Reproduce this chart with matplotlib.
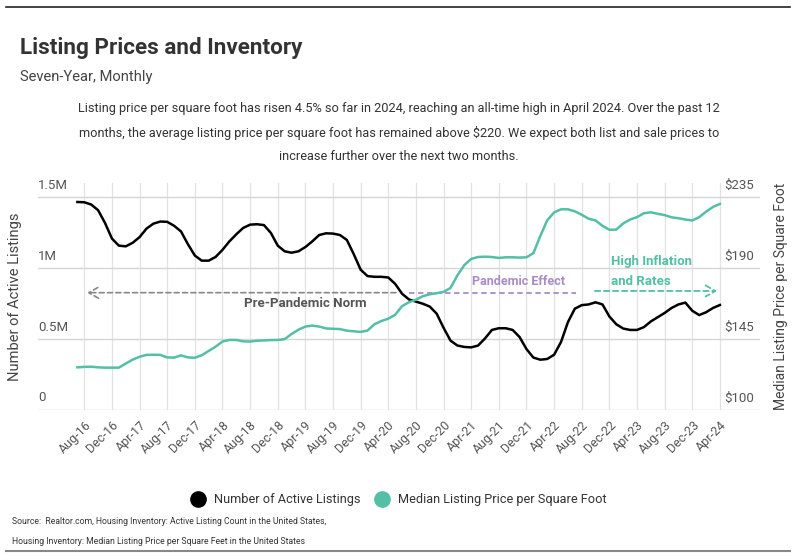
import matplotlib
matplotlib.use("Agg")
import matplotlib.pyplot as plt
from matplotlib.lines import Line2D
import matplotlib.transforms as mtransforms
import pandas as pd

# Monthly, Jul-2016 .. Apr-2024
months = pd.date_range("2016-07-01", "2024-04-01", freq="MS")

# Number of active listings (millions)
listings_m = [
    1.468, 1.466, 1.45, 1.41, 1.32, 1.21,
    1.16, 1.155, 1.18, 1.22, 1.28, 1.315, 1.33, 1.328, 1.30, 1.26, 1.17, 1.09,
    1.054, 1.054, 1.08, 1.13, 1.19, 1.24, 1.285, 1.308, 1.311, 1.305, 1.25, 1.16,
    1.12, 1.11, 1.12, 1.15, 1.19, 1.235, 1.247, 1.245, 1.235, 1.20, 1.10, 0.99,
    0.945, 0.94, 0.94, 0.935, 0.89, 0.82, 0.78, 0.765, 0.75, 0.73, 0.68, 0.58,
    0.49, 0.455, 0.445, 0.442, 0.455, 0.505, 0.565, 0.577, 0.577, 0.565, 0.515, 0.43,
    0.37, 0.355, 0.36, 0.39, 0.48, 0.62, 0.715, 0.74, 0.745, 0.76, 0.745, 0.66,
    0.605, 0.575, 0.565, 0.565, 0.585, 0.625, 0.655, 0.685, 0.72, 0.745, 0.758, 0.70,
    0.67, 0.69, 0.72, 0.741,
]

# Median listing price per square foot ($)
price_sqft = [
    127.1, 127.4, 127.5, 127.1, 126.9, 126.9,
    126.9, 129.5, 132.0, 133.8, 135.0, 135.1, 135.0, 133.4, 133.3, 134.7, 133.4, 133.2,
    134.8, 137.5, 140.2, 143.5, 144.5, 144.5, 143.6, 143.5, 144.0, 144.2, 144.4, 144.5,
    145.0, 148.3, 151.0, 153.0, 153.6, 153.0, 151.8, 151.6, 151.4, 150.4, 150.0, 149.6,
    150.5, 154.5, 156.5, 158.0, 160.5, 166.0, 168.5, 170.0, 172.3, 173.5, 174.2, 175.0,
    177.5, 185.5, 192.0, 196.0, 197.2, 197.4, 197.2, 196.6, 197.0, 197.0, 196.8, 197.0,
    199.6, 210.5, 220.5, 225.5, 227.5, 227.5, 226.2, 224.0, 221.5, 220.4, 217.0, 214.5,
    214.6, 218.5, 221.0, 222.5, 225.0, 225.6, 224.6, 223.8, 222.4, 221.8, 221.0, 220.4,
    222.5, 226.0, 229.0, 230.9,
]

tick_labels = ["Aug-16", "Dec-16", "Apr-17", "Aug-17", "Dec-17", "Apr-18", "Aug-18",
               "Dec-18", "Apr-19", "Aug-19", "Dec-19", "Apr-20", "Aug-20", "Dec-20",
               "Apr-21", "Aug-21", "Dec-21", "Apr-22", "Aug-22", "Dec-22", "Apr-23",
               "Aug-23", "Dec-23", "Apr-24"]
left_ticks = [0, 0.5e6, 1.0e6, 1.5e6]
left_tick_labels = ["0", "0.5M", "1M", "1.5M"]
right_ticks = [100, 145, 190, 235]
right_tick_labels = ["$100", "$145", "$190", "$235"]

plt.rcParams["font.family"] = ["Roboto", "DejaVu Sans"]

TEAL = "#52bfa6"
PURPLE = "#a98bc8"
GRID = "#e2e2e2"
TXT = "#444444"

idx = list(range(len(months)))
listings = [v * 1e6 for v in listings_m]
month_str = [m.strftime("%b-%y") for m in months]
tick_pos = [month_str.index(t) for t in tick_labels]

fig = plt.figure(figsize=(7.95, 5.57), dpi=100)
ax = fig.add_axes([38 / 795, 147 / 557, 722 / 795, 227 / 557])
ax2 = ax.twinx()

ax.set_xlim(-5.7, 98.8)
ax.set_ylim(0, 1.602e6)
ax2.set_ylim(100, 244.2)

# grid
for t in tick_pos:
    ax.axvline(t, color=GRID, lw=0.9, zorder=0)
for t in left_ticks:
    ax.axhline(t, color="#d6d6d6", lw=1.0, zorder=0)

ax.plot(idx, listings, color="black", lw=1.8, zorder=3)
ax2.plot(idx, price_sqft, color=TEAL, lw=1.8, zorder=3)

for a in (ax, ax2):
    for s in a.spines.values():
        s.set_visible(False)
    a.set_yticks([])
ax.set_xticks(tick_pos)
ax.set_xticklabels(tick_labels, rotation=45, ha="right", rotation_mode="anchor",
                   fontsize=9, color="#555555")
ax.tick_params(axis="x", length=0, pad=6)

# y tick labels sit above the gridlines, inside the plot
trans_l = mtransforms.blended_transform_factory(ax.transAxes, ax.transData)
for v, lab in zip(left_ticks, left_tick_labels):
    ax.annotate(lab, (0, v), xycoords=trans_l, xytext=(0, 4), textcoords="offset points",
                ha="left", va="bottom", fontsize=9.5, color="#555555")
trans_r = mtransforms.blended_transform_factory(ax2.transAxes, ax2.transData)
for v, lab in zip(right_ticks, right_tick_labels):
    ax2.annotate(lab, (1, v), xycoords=trans_r, xytext=(-4, 4), textcoords="offset points",
                 ha="right", va="bottom", fontsize=9.5, color="#555555")

# annotations (left-axis units)
ax.annotate("", xy=(1, 0.828e6), xytext=(46.5, 0.828e6),
            arrowprops=dict(arrowstyle="->,head_length=0.7,head_width=0.4", color="#888888",
                            lw=1.2, linestyle=(0, (3, 2))), zorder=2)
ax.text(33, 0.80e6, "Pre-Pandemic Norm", ha="center", va="top", fontsize=9.5,
        fontweight="bold", color="#555555")
ax.plot([48, 72.2], [0.828e6, 0.828e6], color=PURPLE, lw=1.3, ls=(0, (3, 2)), zorder=2)
ax.text(63.8, 0.86e6, "Pandemic Effect", ha="center", va="bottom", fontsize=9,
        fontweight="bold", color=PURPLE)
ax.annotate("", xy=(93, 0.84e6), xytext=(74.5, 0.84e6),
            arrowprops=dict(arrowstyle="->,head_length=0.7,head_width=0.4", color=TEAL,
                            lw=1.3, linestyle=(0, (3, 2))), zorder=2)
ax.text(77.2, 0.86e6, "High Inflation\nand Rates", ha="left", va="bottom", fontsize=9.5,
        fontweight="bold", color=TEAL, linespacing=1.7)

ax.text(-0.032, 0.5, "Number of Active Listings", transform=ax.transAxes, rotation=90,
        ha="center", va="center", fontsize=10.5, color=TXT)
ax2.text(1.029, 0.5, "Median Listing Price per Square Foot", transform=ax2.transAxes,
         rotation=90, ha="center", va="center", fontsize=10, color=TXT)

# header
fig.add_artist(Line2D([6 / 795, 790 / 795], [1 - 7 / 557, 1 - 7 / 557], color="#222222", lw=1.2))
fig.text(20 / 795, 1 - 48 / 557, "Listing Prices and Inventory", fontsize=16.2,
         fontweight="bold", color="#333333", va="center", ha="left")
fig.text(20 / 795, 1 - 77 / 557, "Seven-Year, Monthly", fontsize=10.6, color="#444444",
         va="center", ha="left")
desc = ("Listing price per square foot has risen 4.5% so far in 2024, reaching an all-time high in April 2024. Over the past 12\n"
        "months, the average listing price per square foot has remained above $220. We expect both list and sale prices to\n"
        "increase further over the next two months.")
fig.text(399 / 795, 1 - 133 / 557, desc, fontsize=9.2, color="#333333", ha="center",
         va="center", linespacing=2.0)

# legend
handles = [Line2D([], [], ls="", marker="o", markersize=11, color="black"),
           Line2D([], [], ls="", marker="o", markersize=11, color=TEAL)]
fig.legend(handles, ["Number of Active Listings", "Median Listing Price per Square Foot"],
           loc="center", bbox_to_anchor=(396 / 795, 1 - 500 / 557), ncol=2, frameon=False,
           fontsize=9.2, handletextpad=0.25, columnspacing=0.7, labelcolor="#333333")

fig.text(12 / 795, 1 - 521 / 557,
         "Source:  Realtor.com, Housing Inventory: Active Listing Count in the United States,",
         fontsize=6.2, color="#333333", va="center")
fig.text(12 / 795, 1 - 541 / 557,
         "Housing Inventory: Median Listing Price per Square Feet in the United States",
         fontsize=6.2, color="#333333", va="center")
fig.add_artist(Line2D([6 / 795, 790 / 795], [1 - 551 / 557, 1 - 551 / 557], color="#888888", lw=1.5))

fig.savefig("out.png", dpi=100)
